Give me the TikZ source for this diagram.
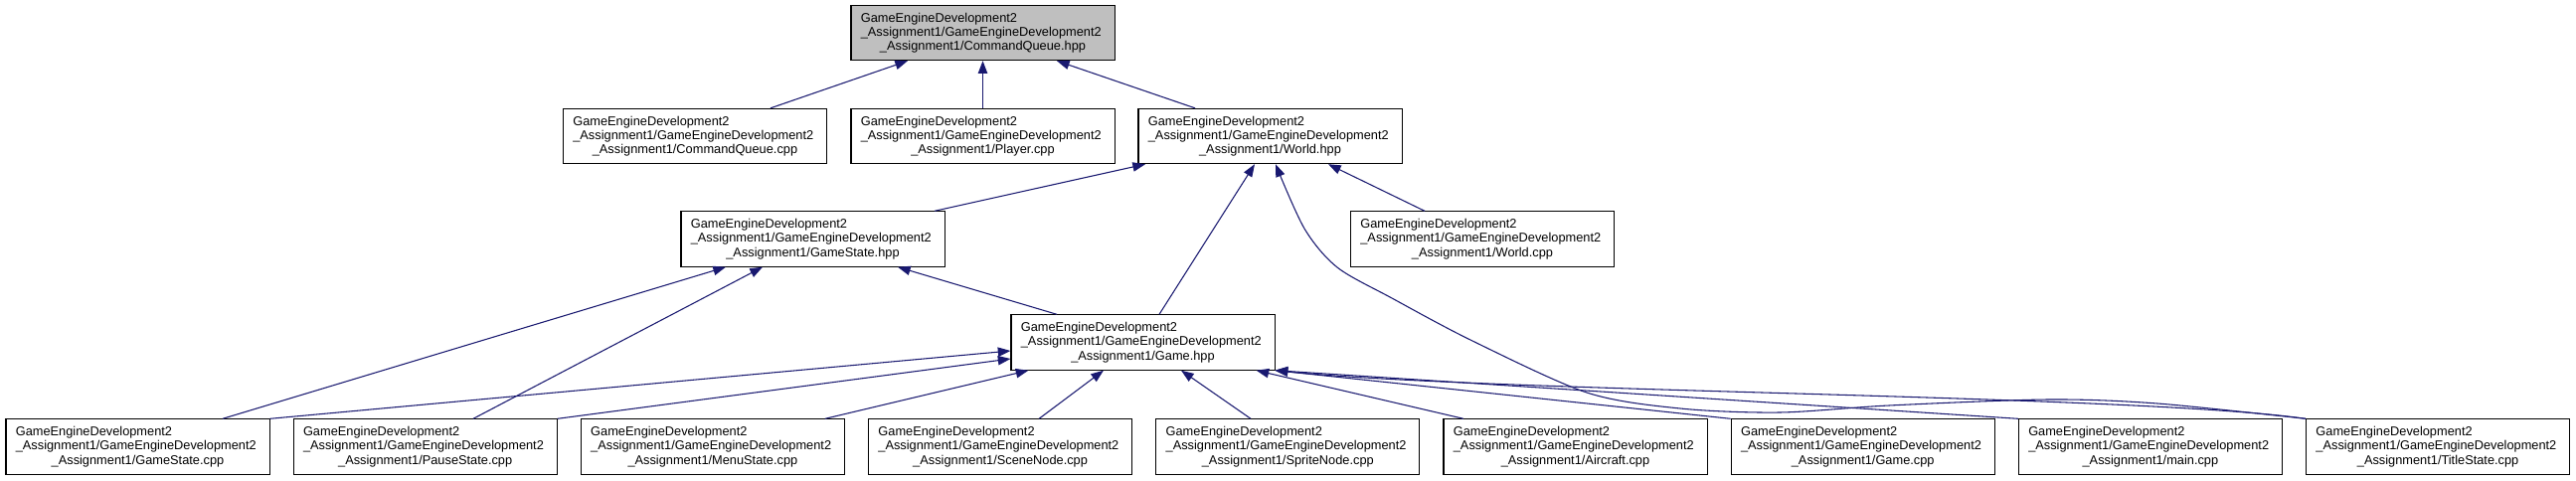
\documentclass[tikz,border=0pt]{standalone}
\usepackage{fontspec}
\setmainfont{Liberation Sans}
\usetikzlibrary{arrows.meta,calc}
\definecolor{edgeblue}{HTML}{191970}
\definecolor{rootgrey}{HTML}{BFBFBF}
\newcommand{\flfont}{\fontsize{9.6pt}{10.65pt}\selectfont}
\newcommand{\flabel}[1]{GameEngineDevelopment2\\\_Assignment1/GameEngineDevelopment2\\\hbox to\hsize{\hss\_Assignment1/#1\hss}}

\begin{document}
\begin{tikzpicture}[x=0.75pt,y=-0.75pt,
  file/.style={draw=black,line width=0.8pt,fill=white,font=\flfont,align=left,text width=184pt,inner xsep=7.4pt,inner ysep=2pt,minimum height=41.5pt},
  root/.style={file,fill=rootgrey},
  dep/.style={edgeblue,line width=0.8pt,-{Triangle[length=9.5pt,width=7pt]}}]
  \fill[white] (0,0) rectangle (2591,483);
  % headers and sources
  \node[root] (cqh) at (988.5,33) {\flabel{CommandQueue.hpp}};
  \node[file] (cqcpp) at (699,137) {\flabel{CommandQueue.cpp}};
  \node[file] (player) at (988.5,137) {\flabel{Player.cpp}};
  \node[file] (worldh) at (1277.5,137) {\flabel{World.hpp}};
  \node[file] (gsh) at (817.5,240.5) {\flabel{GameState.hpp}};
  \node[file] (worldcpp) at (1491,240.5) {\flabel{World.cpp}};
  \node[file] (gameh) at (1149.5,344.5) {\flabel{Game.hpp}};
  \node[file] (gamestatecpp) at (138.5,449.5) {\flabel{GameState.cpp}};
  \node[file] (pausestatecpp) at (427.7,449.5) {\flabel{PauseState.cpp}};
  \node[file] (menustatecpp) at (716.9,449.5) {\flabel{MenuState.cpp}};
  \node[file] (scenenode) at (1006.1,449.5) {\flabel{SceneNode.cpp}};
  \node[file] (spritenode) at (1295.3,449.5) {\flabel{SpriteNode.cpp}};
  \node[file] (aircraft) at (1584.5,449.5) {\flabel{Aircraft.cpp}};
  \node[file] (gamecpp) at (1873.7,449.5) {\flabel{Game.cpp}};
  \node[file] (maincpp) at (2162.9,449.5) {\flabel{main.cpp}};
  \node[file] (titlestate) at (2452.1,449.5) {\flabel{TitleState.cpp}};
  % includes
  \draw[dep] ($(cqcpp.north)+(76,0)$) -- ($(cqh.south)+(-75.5,0)$);
  \draw[dep] (player.north) -- (cqh.south);
  \draw[dep] ($(worldh.north)+(-75.5,0)$) -- ($(cqh.south)+(74.5,0)$);
  \draw[dep] ($(gsh.north)+(122.5,0)$) -- ($(worldh.south)+(-125.5,0)$);
  \draw[dep] ($(gameh.north)+(16.5,0)$) -- ($(worldh.south)+(-15.5,0)$);
  \draw[dep] ($(worldcpp.north)+(-58,0)$) -- ($(worldh.south)+(58.5,0)$);
  \coordinate (wtip) at ($(worldh.south)+(5.5,0)$);
  \draw[dep] plot[smooth,tension=0.5] coordinates {(titlestate.north west) (2170,406) (2060,402) (1900,408) (1790,415) (1690,411) (1596,395) (1481,343) (1400,300) (1345,269) (1312,230) (wtip)};
  \draw[dep] ($(gameh.north)+(-86.5,0)$) -- ($(gsh.south)+(85.5,0)$);
  \draw[dep] ($(gamestatecpp.north)+(85.5,0)$) -- ($(gsh.south)+(-87.5,0)$);
  \draw[dep] ($(pausestatecpp.north)+(48.3,0)$) -- ($(gsh.south)+(-50.5,0)$);
  \draw[dep] (gamestatecpp.north east) -- ($(gameh.west)+(0,8.5)$);
  \draw[dep] (pausestatecpp.north east) -- ($(gameh.west)+(0,16.5)$);
  \draw[dep] ($(menustatecpp.north)+(113,0)$) -- ($(gameh.south west)+(18,0)$);
  \draw[dep] ($(scenenode.north)+(39,0)$) -- ($(gameh.south)+(-39.5,0)$);
  \draw[dep] ($(spritenode.north)+(-37.3,0)$) -- ($(gameh.south)+(38.5,0)$);
  \draw[dep] ($(aircraft.north)+(-112.5,0)$) -- ($(gameh.south east)+(-19,0)$);
  \draw[dep] (gamecpp.north west) -- (gameh.south east);
  \draw[dep] (maincpp.north west) -- (gameh.south east);
  \draw[dep] (titlestate.north west) .. controls (2150,397) and (1500,395) .. (gameh.south east);
\end{tikzpicture}
\end{document}
